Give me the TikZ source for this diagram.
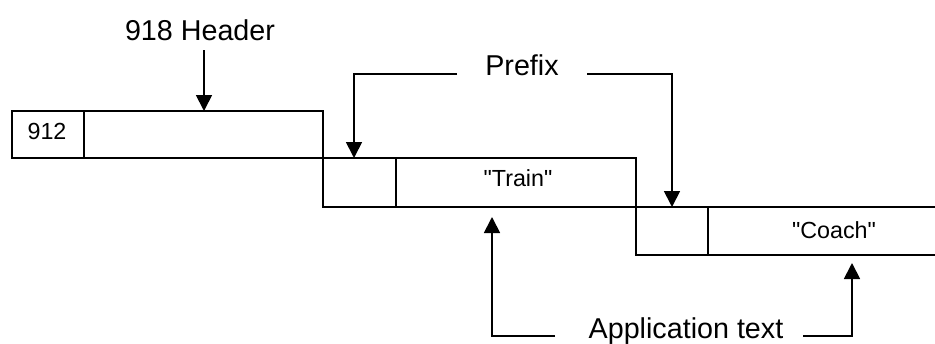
\documentclass[tikz,border=0pt]{standalone}
\usepackage{fontspec}
\setmainfont{Liberation Sans}[Ligatures=TeXOff]
\usetikzlibrary{arrows.meta}
\begin{document}
\begin{tikzpicture}[x=1pt,y=-1pt,
  cell/.style={draw, line width=1.5pt, inner sep=0pt, outer sep=0pt, anchor=north west},
  lbl/.style={font=\fontsize{28.7}{32}\selectfont, inner sep=0pt, anchor=base},
  val/.style={font=\fontsize{23.3}{27}\selectfont, inner sep=0pt},
  ptr/.style={line width=1.8pt, -{Triangle[width=16pt,length=16pt]}}]
\clip (0,0) rectangle (935,343);
% record layout: three staggered records
\node[cell, minimum width=72pt,  minimum height=47pt] (a1) at (12,111) {};
\node[cell, minimum width=239pt, minimum height=47pt] (a2) at (84,111) {};
\node[cell, minimum width=73pt,  minimum height=49pt] (b1) at (323,158) {};
\node[cell, minimum width=240pt, minimum height=49pt] (b2) at (396,158) {};
\node[cell, minimum width=72pt,  minimum height=48pt] (c1) at (636,207) {};
\node[cell, minimum width=252pt, minimum height=48pt] (c2) at (708,207) {};
% field contents
\node[val] (v912) at (47,131) {912};
\node[val] (vtrain) at (518,178) {"Train"};
\node[val] (vcoach) at (834,230) {"Coach"};
% captions
\node[lbl] (hdr) at (200,40) {918 Header};
\node[lbl] (pfx) at (522,75) {Prefix};
\node[lbl] (app) at (686,338) {Application text};
% pointer ends
\coordinate (hdtail) at (204,50);
\coordinate (pl) at (457,74);
\coordinate (pr) at (587,74);
\coordinate (al) at (555,336);
\coordinate (ar) at (803,336);
\coordinate (pltip) at (354,158);
\coordinate (altip) at (492,217);
\coordinate (artip) at (852,263);
% pointers
\draw[ptr] (hdtail) -- (hdtail |- a2.north);
\draw[ptr] (pl) -| (pltip);
\draw[ptr] (pr) -| (c1.north);
\draw[ptr] (al) -| (altip);
\draw[ptr] (ar) -| (artip);
\end{tikzpicture}
\end{document}
